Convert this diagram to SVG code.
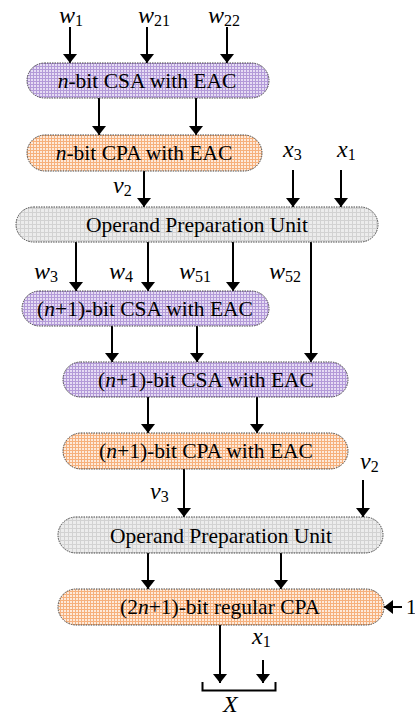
<svg xmlns="http://www.w3.org/2000/svg" width="415" height="717" viewBox="0 0 415 717">
  <defs>
    <pattern id="pPurple" width="3" height="3" patternUnits="userSpaceOnUse">
      <rect width="3" height="3" fill="#e6dcf4"/>
      <path d="M0 0.5H3M0.5 0V3" stroke="#b39ad8" stroke-width="1"/>
    </pattern>
    <pattern id="pOrange" width="3" height="3" patternUnits="userSpaceOnUse">
      <rect width="3" height="3" fill="#fdeadb"/>
      <path d="M0 0.5H3M0.5 0V3" stroke="#f6b07c" stroke-width="1"/>
    </pattern>
    <pattern id="pGray" width="4" height="4" patternUnits="userSpaceOnUse">
      <rect width="4" height="4" fill="#ececec"/>
      <path d="M0 0.5H4M0.5 0V4" stroke="#d2d2d2" stroke-width="1"/>
    </pattern>
    <!-- filled arrowhead, tip at the end of the line -->
    <marker id="arr" viewBox="0 0 9 14" refX="9" refY="7" markerWidth="9" markerHeight="14" markerUnits="userSpaceOnUse" orient="auto">
      <path d="M0 0L9 7L0 14Z" fill="#000"/>
    </marker>
  </defs>
  <style>
    .box { stroke: #444; stroke-width: 1; stroke-dasharray: 1.5 1; }
    .csa { fill: url(#pPurple); }
    .cpa { fill: url(#pOrange); }
    .opu { fill: url(#pGray); }
    .lbl { font-family: "Liberation Serif", "Times New Roman", serif; font-size: 21.5px; fill: #000; text-anchor: middle; }
    .lbl .it { font-style: italic; }
    .m { font-family: "Liberation Serif", "Times New Roman", serif; font-size: 24px; font-style: italic; fill: #000; }
    .m .s { font-style: normal; font-size: 16px; }
    .wire { stroke: #000; stroke-width: 2; fill: none; }
    .wire.a { marker-end: url(#arr); }
  </style>

  <!-- connectors -->
  <g id="connectors">
    <!-- inputs to n-bit CSA -->
    <line class="wire a" x1="70" y1="27" x2="70" y2="63"/>
    <line class="wire a" x1="147" y1="27" x2="147" y2="63"/>
    <line class="wire a" x1="227" y1="27" x2="227" y2="63"/>
    <!-- CSA to CPA -->
    <line class="wire a" x1="99" y1="98" x2="99" y2="135"/>
    <line class="wire a" x1="196" y1="98" x2="196" y2="135"/>
    <!-- into first OPU -->
    <line class="wire a" x1="144" y1="171" x2="144" y2="207"/>
    <line class="wire a" x1="293" y1="170" x2="293" y2="207"/>
    <line class="wire a" x1="341" y1="170" x2="341" y2="207"/>
    <!-- OPU outputs -->
    <line class="wire a" x1="76" y1="242" x2="76" y2="291"/>
    <line class="wire a" x1="148" y1="242" x2="148" y2="291"/>
    <line class="wire a" x1="233" y1="242" x2="233" y2="291"/>
    <line class="wire a" x1="311" y1="242" x2="311" y2="362"/>
    <!-- first (n+1) CSA to second -->
    <line class="wire a" x1="112" y1="326" x2="112" y2="362"/>
    <line class="wire a" x1="197" y1="326" x2="197" y2="362"/>
    <!-- second CSA to CPA -->
    <line class="wire a" x1="148" y1="397" x2="148" y2="433"/>
    <line class="wire a" x1="257" y1="397" x2="257" y2="433"/>
    <!-- into second OPU -->
    <line class="wire a" x1="184" y1="469" x2="184" y2="517"/>
    <line class="wire a" x1="363" y1="480" x2="363" y2="517"/>
    <!-- OPU to final CPA -->
    <line class="wire a" x1="148" y1="553" x2="148" y2="589"/>
    <line class="wire a" x1="281" y1="553" x2="281" y2="589"/>
    <!-- carry-in 1 -->
    <line class="wire a" x1="402" y1="607" x2="384" y2="607"/>
    <!-- outputs -->
    <line class="wire a" x1="220" y1="625" x2="220" y2="683"/>
    <line class="wire a" x1="263" y1="660" x2="263" y2="683"/>
    <!-- concatenation bracket -->
    <path class="wire" d="M202.5 682V690.5H275.5V682"/>
  </g>

  <!-- nodes -->
  <g id="csa-n">
    <rect class="box csa" x="27" y="63" width="242" height="35" rx="17.5"/>
    <text class="lbl" x="147" y="88"><tspan class="it">n</tspan>-bit CSA with EAC</text>
  </g>
  <g id="cpa-n">
    <rect class="box cpa" x="27" y="135" width="235" height="36" rx="18"/>
    <text class="lbl" x="144" y="160"><tspan class="it">n</tspan>-bit CPA with EAC</text>
  </g>
  <g id="opu-1">
    <rect class="box opu" x="16" y="207" width="362" height="35" rx="17.5"/>
    <text class="lbl" x="197" y="232">Operand Preparation Unit</text>
  </g>
  <g id="csa-n1-a">
    <rect class="box csa" x="22" y="291" width="247" height="35" rx="17.5"/>
    <text class="lbl" x="145" y="316">(<tspan class="it">n</tspan>+1)-bit CSA with EAC</text>
  </g>
  <g id="csa-n1-b">
    <rect class="box csa" x="63" y="362" width="285" height="35" rx="17.5"/>
    <text class="lbl" x="206" y="387">(<tspan class="it">n</tspan>+1)-bit CSA with EAC</text>
  </g>
  <g id="cpa-n1">
    <rect class="box cpa" x="63" y="433" width="285" height="36" rx="18"/>
    <text class="lbl" x="206" y="458">(<tspan class="it">n</tspan>+1)-bit CPA with EAC</text>
  </g>
  <g id="opu-2">
    <rect class="box opu" x="58" y="517" width="325" height="36" rx="18"/>
    <text class="lbl" x="221" y="543">Operand Preparation Unit</text>
  </g>
  <g id="cpa-2n1">
    <rect class="box cpa" x="58" y="589" width="326" height="36" rx="18"/>
    <text class="lbl" x="220" y="614">(2<tspan class="it">n</tspan>+1)-bit regular CPA</text>
  </g>

  <!-- signal labels -->
  <g id="labels">
    <text class="m" x="59" y="23">w<tspan class="s" dy="3">1</tspan></text>
    <text class="m" x="138" y="23">w<tspan class="s" dy="3">21</tspan></text>
    <text class="m" x="208" y="23">w<tspan class="s" dy="3">22</tspan></text>
    <text class="m" x="113" y="193">v<tspan class="s" dy="3">2</tspan></text>
    <text class="m" x="283" y="157">x<tspan class="s" dy="3">3</tspan></text>
    <text class="m" x="337" y="157">x<tspan class="s" dy="3">1</tspan></text>
    <text class="m" x="34" y="279">w<tspan class="s" dy="3">3</tspan></text>
    <text class="m" x="109" y="279">w<tspan class="s" dy="3">4</tspan></text>
    <text class="m" x="179" y="279">w<tspan class="s" dy="3">51</tspan></text>
    <text class="m" x="269" y="279">w<tspan class="s" dy="3">52</tspan></text>
    <text class="m" x="150" y="499">v<tspan class="s" dy="3">3</tspan></text>
    <text class="m" x="360" y="469">v<tspan class="s" dy="3">2</tspan></text>
    <text class="m" x="252" y="644">x<tspan class="s" dy="3">1</tspan></text>
    <text class="m" x="223" y="712" font-size="21px">X</text>
    <text x="406" y="614" font-family="Liberation Serif, Times New Roman, serif" font-size="21px">1</text>
  </g>
</svg>
